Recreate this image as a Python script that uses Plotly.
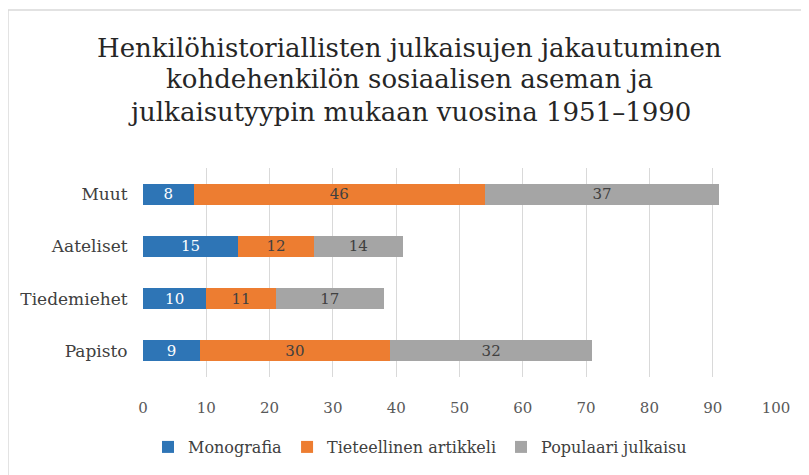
import plotly.graph_objects as go

categories = ["Papisto", "Tiedemiehet", "Aateliset", "Muut"]
monografia = [9, 10, 15, 8]
tieteellinen = [30, 11, 12, 46]
populaari = [32, 17, 14, 37]
series_names = ["Monografia", "Tieteellinen artikkeli", "Populaari julkaisu"]
tick_vals = [0, 10, 20, 30, 40, 50, 60, 70, 80, 90, 100]
title_lines = [
    "Henkilöhistoriallisten julkaisujen jakautuminen",
    "kohdehenkilön sosiaalisen aseman ja",
    "julkaisutyypin mukaan vuosina 1951–1990",
]

FONT = "DejaVu Serif"
colors = ["#2E75B6", "#ED7D31", "#A5A5A5"]
text_colors = ["#FFFFFF", "#404040", "#404040"]

fig = go.Figure()
for name, vals, c, tc in zip(series_names, [monografia, tieteellinen, populaari], colors, text_colors):
    fig.add_trace(go.Bar(
        y=categories, x=vals, name=name, orientation="h",
        marker=dict(color=c, line=dict(width=0)),
        text=[str(v) for v in vals], textposition="inside",
        insidetextanchor="middle", textangle=0,
        textfont=dict(family=FONT, size=15, color=tc),
        constraintext="none",
    ))

title_y = [1.575, 1.424, 1.27]
annotations = [
    dict(text=t, xref="paper", yref="paper", x=0.4218, y=y, xanchor="center",
         yanchor="middle", showarrow=False,
         font=dict(family=FONT, size=26, color="#262626"))
    for t, y in zip(title_lines, title_y)
]

fig.update_layout(
    barmode="stack",
    bargap=0.6,
    width=801, height=467,
    paper_bgcolor="white", plot_bgcolor="white",
    margin=dict(l=135, r=33, t=160, b=98, autoexpand=False),
    font=dict(family=FONT, color="#404040"),
    annotations=annotations,
    xaxis=dict(
        range=[0, 100], tickvals=tick_vals, showgrid=True,
        gridcolor="#D9D9D9", gridwidth=1, zeroline=False,
        ticks="outside", ticklen=17, tickcolor="rgba(0,0,0,0)",
        tickfont=dict(family=FONT, size=15, color="#595959"),
        showline=False, fixedrange=True, automargin=False,
    ),
    yaxis=dict(
        showgrid=False, zeroline=False, showline=False,
        ticks="outside", ticklen=11, tickcolor="rgba(0,0,0,0)",
        tickfont=dict(family=FONT, size=17, color="#404040"),
        automargin=False,
    ),
    legend=dict(
        orientation="h", x=0.4376, xanchor="center", y=-0.335, yanchor="middle",
        font=dict(family=FONT, size=16, color="#404040"),
        traceorder="normal", itemwidth=30,
    ),
    showlegend=True,
    shapes=[
        dict(type="line", xref="paper", yref="paper", x0=-0.2133, x1=1.06, y0=1.756, y1=1.756,
             line=dict(color="#D9D9D9", width=1.5)),
        dict(type="line", xref="paper", yref="paper", x0=-0.2133, x1=-0.2133, y0=1.756, y1=-0.5,
             line=dict(color="#D9D9D9", width=1.5)),
    ],
)

fig.write_html("out.html")
